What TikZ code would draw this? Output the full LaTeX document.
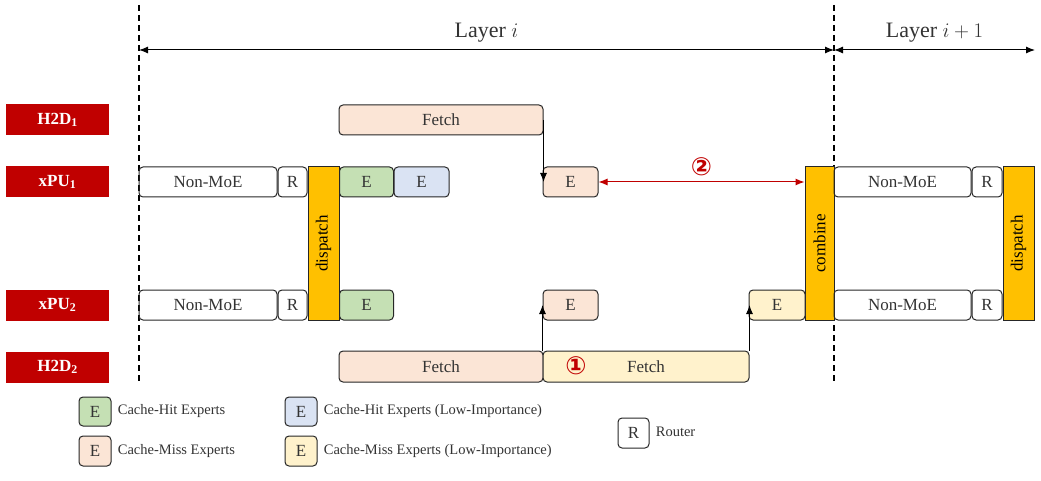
\documentclass[tikz,border=0pt]{standalone}
\usepackage{fontspec}
\setmainfont{Liberation Serif}
\newfontfamily\djv{DejaVu Sans}
\usetikzlibrary{arrows.meta}
\definecolor{cpink}{HTML}{FBE5D6}
\definecolor{cgreen}{HTML}{C5E0B4}
\definecolor{cblue}{HTML}{DAE3F3}
\definecolor{cyel}{HTML}{FFF2CC}
\definecolor{corange}{HTML}{FFC000}
\definecolor{cred}{HTML}{C00000}
\tikzset{
 every path/.style={line width=1pt},
 blk/.style={draw=black!85,line width=1pt,rounded corners=4pt,inner sep=0pt,font=\fontsize{17}{17}\selectfont,text=black!80},
 bar/.style={draw=black!85,line width=1pt,fill=corange,inner sep=0pt,font=\fontsize{17}{17}\selectfont},
 lab/.style={fill=cred,text=white,inner sep=0pt,minimum width=103pt,minimum height=31pt,font=\bfseries\fontsize{17}{17}\selectfont},
 leg/.style={anchor=west,font=\fontsize{14.5}{14.5}\selectfont,text=black!80},
 circ/.style={text=cred,font=\djv\bfseries\fontsize{25}{25}\selectfont},
 tip/.style={-{Latex[length=9pt,width=7pt]}},
 dtip/.style={{Latex[length=9pt,width=7pt]}-{Latex[length=9pt,width=7pt]}},
}
\begin{document}
\begin{tikzpicture}[x=1pt,y=-1pt]
\useasboundingbox (0,0) rectangle (1041,481);
% labels
\node[lab] (h1) at (57.5,120) {H2D\textsubscript{1}};
\node[lab] (x1) at (57.5,182) {xPU\textsubscript{1}};
\node[lab] (x2) at (57.5,305) {xPU\textsubscript{2}};
\node[lab] (h2) at (57.5,367) {H2D\textsubscript{2}};
% dashed
\coordinate (d1t) at (139,5); \coordinate (d1b) at (139,382);
\coordinate (d2t) at (834,5); \coordinate (d2b) at (834,382);
\coordinate (d3) at (1035,50);
\draw[dashed,line width=1.2pt,dash pattern=on 6pt off 4pt] (d1t) -- (d1b);
\draw[dashed,line width=1.2pt,dash pattern=on 6pt off 4pt] (d2t) -- (d2b);
\draw[dtip] (d1t|-d3) -- node[above=4pt,font=\fontsize{22}{22}\selectfont,text=black!80]{Layer $i$} (d2t|-d3);
\draw[dtip] (d2t|-d3) -- node[above=4pt,font=\fontsize{22}{22}\selectfont,text=black!80]{Layer $i+1$} (d3);
% xPU1 row
\node[blk,minimum width=138pt,minimum height=30pt] (nm1) at (208,182) {Non-MoE};
\node[blk,minimum width=29pt,minimum height=30pt] (r1) at (292.5,182) {R};
\node[bar,minimum width=31pt,minimum height=153pt] (disp) at (323.5,243.5) {\rotatebox{90}{dispatch}};
\node[blk,fill=cgreen,minimum width=54pt,minimum height=30pt] (eg1) at (366.5,182) {E};
\node[blk,fill=cblue,minimum width=55pt,minimum height=30pt] (eb1) at (421.5,182) {E};
\node[blk,fill=cpink,minimum width=55pt,minimum height=30pt] (ep1) at (570.5,182) {E};
\node[bar,minimum width=29pt,minimum height=153pt] (comb) at (819.5,243.5) {\rotatebox{90}{combine}};
\node[blk,minimum width=137pt,minimum height=30pt] (nm3) at (902.5,182) {Non-MoE};
\node[blk,minimum width=30pt,minimum height=30pt] (r3) at (987,182) {R};
\node[bar,minimum width=31pt,minimum height=153pt] (disp2) at (1018.5,243.5) {\rotatebox{90}{dispatch}};
% xPU2 row
\node[blk,minimum width=138pt,minimum height=30pt] (nm2) at (208,305) {Non-MoE};
\node[blk,minimum width=29pt,minimum height=30pt] (r2) at (292.5,305) {R};
\node[blk,fill=cgreen,minimum width=54pt,minimum height=30pt] (eg2) at (366.5,305) {E};
\node[blk,fill=cpink,minimum width=55pt,minimum height=30pt] (ep2) at (570.5,305) {E};
\node[blk,fill=cyel,minimum width=56pt,minimum height=30pt] (ey2) at (777,305) {E};
\node[blk,minimum width=137pt,minimum height=30pt] (nm4) at (902.5,305) {Non-MoE};
\node[blk,minimum width=30pt,minimum height=30pt] (r4) at (987,305) {R};
% fetches
\node[blk,fill=cpink,minimum width=204pt,minimum height=30pt] (f1) at (441,120) {Fetch};
\node[blk,fill=cpink,minimum width=204pt,minimum height=31pt] (f2) at (441,366.5) {Fetch};
\node[blk,fill=cyel,minimum width=206pt,minimum height=31pt] (f3) at (646,366.5) {Fetch};
\node[circ] (c1) at (576,366) {①};
% arrows
\draw[tip] (f1.east) -- (f1.east|-ep1.center);
\draw[tip] (f3.north west) -- (f3.north west|-ep2.center);
\draw[tip] (f3.north east) -- (f3.north east|-ey2.center);
\draw[cred,dtip] (ep1.east) -- node[circ,above=2pt]{②} (comb.west|-ep1.east);
% legend
\node[blk,fill=cgreen,minimum width=32pt,minimum height=29pt] (lg1) at (95,411.5) {E};
\node[leg] (lt1) at (114,411.5) {Cache-Hit Experts};
\node[blk,fill=cpink,minimum width=32pt,minimum height=30pt] (lg2) at (95,451) {E};
\node[leg] (lt2) at (114,451) {Cache-Miss Experts};
\node[blk,fill=cblue,minimum width=32pt,minimum height=29pt] (lg3) at (301,411.5) {E};
\node[leg] (lt3) at (320,411.5) {Cache-Hit Experts (Low-Importance)};
\node[blk,fill=cyel,minimum width=32pt,minimum height=30pt] (lg4) at (301,451) {E};
\node[leg] (lt4) at (320,451) {Cache-Miss Experts (Low-Importance)};
\node[blk,minimum width=31pt,minimum height=30pt] (lg5) at (633.5,433) {R};
\node[leg] (lt5) at (652,432) {Router};
\end{tikzpicture}
\end{document}
